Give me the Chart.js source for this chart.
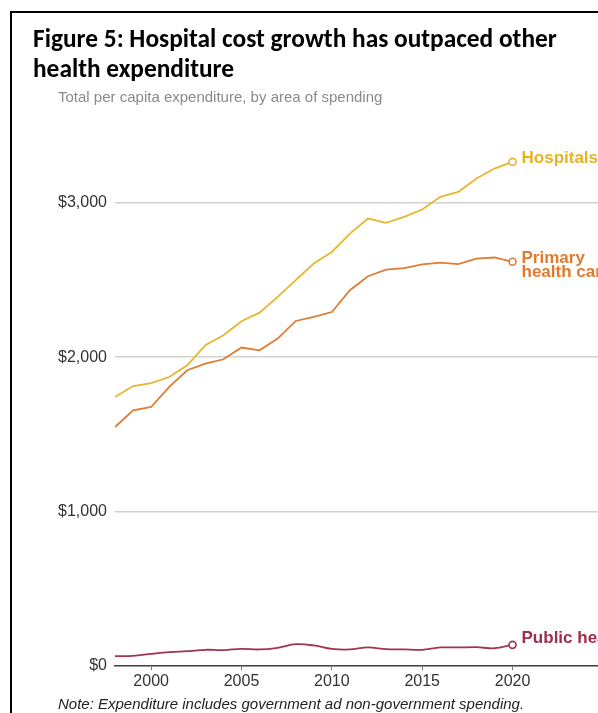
<!DOCTYPE html>
<html><head><meta charset="utf-8">
<script src="https://cdn.jsdelivr.net/npm/chart.js@4.4.1/dist/chart.umd.min.js"></script>
<style>html,body{margin:0;padding:0;background:#fff;overflow:hidden}canvas{display:block}</style>
</head><body>
<canvas id="c" width="598" height="713"></canvas>
<script>
const years = [1998,1999,2000,2001,2002,2003,2004,2005,2006,2007,2008,2009,2010,2011,2012,2013,2014,2015,2016,2017,2018,2019,2020];
const hospitals = [1742,1813,1832,1871,1947,2077,2142,2232,2288,2390,2498,2606,2681,2800,2897,2869,2908,2956,3038,3070,3157,3221,3264];
const primaryCare = [1547,1656,1677,1807,1915,1958,1986,2062,2044,2120,2234,2260,2292,2433,2524,2567,2576,2600,2612,2602,2638,2645,2617];
const publicHealth = [64,66,79,90,96,105,103,111,107,118,141,133,111,107,120,109,107,105,120,120,122,115,137];
const yTicks = [0,1000,2000,3000];
const xTicks = [2000,2005,2010,2015,2020];
const titleLines = ['Figure 5: Hospital cost growth has outpaced other','health expenditure'];
const subtitleText = 'Total per capita expenditure, by area of spending';
const noteText = 'Note: Expenditure includes government ad non-government spending.';
const seriesNames = [['Hospitals'],['Primary','health care'],['Public health']];

const SANS = '"Liberation Sans", Arial, sans-serif';
const TITLE_FONT = 'Carlito, Calibri, Lato, sans-serif';
const colors = ['#e8b62c','#e07c33','#a2344f'];

const toXY = vals => years.map((yr,i)=>({x:yr,y:vals[i]}));
const lastPoint = ctx => ctx.dataIndex === years.length-1 ? 3.5 : 0;

const textPlugin = {
  id:'texts',
  beforeDraw(chart){
    const c = chart.ctx;
    c.save();
    c.fillStyle = '#fff';
    c.fillRect(0,0,chart.width,chart.height);
    c.strokeStyle = '#000';
    c.lineWidth = 2;
    c.strokeRect(11,12,1000,1000);
    c.restore();
  },
  afterDatasetsDraw(chart){
    const c = chart.ctx;
    c.save();
    c.textAlign = 'left';
    c.textBaseline = 'alphabetic';
    chart.data.datasets.forEach((ds,di)=>{
      const meta = chart.getDatasetMeta(di);
      const p = meta.data[meta.data.length-1];
      c.fillStyle = ds.labelColor;
      c.font = 'bold 17px ' + SANS;
      seriesNames[di].forEach((ln,li)=>{
        c.fillText(ln, p.x + 9, p.y + ds.labelDy + li*14.5);
      });
    });
    c.restore();
  },
  afterDraw(chart){
    const c = chart.ctx;
    c.save();
    c.textAlign = 'left';
    c.textBaseline = 'alphabetic';
    c.font = 'bold 22px ' + TITLE_FONT;
    const w = c.measureText(titleLines[0]).width;
    const size = 22 * 524 / w;
    c.font = 'bold ' + size.toFixed(2) + 'px ' + TITLE_FONT;
    c.fillStyle = '#000';
    c.fillText(titleLines[0], 33, 47);
    c.fillText(titleLines[1], 33, 77);
    c.font = '15px ' + SANS;
    c.fillStyle = '#8a8a8a';
    c.fillText(subtitleText, 58, 102);
    c.font = 'italic 15px ' + SANS;
    c.fillStyle = '#222';
    c.fillText(noteText, 58, 709);
    c.restore();
  }
};

new Chart(document.getElementById('c'), {
  type:'line',
  data:{
    datasets:[
      {label:'Hospitals', data:toXY(hospitals), borderColor:colors[0], labelColor:'#e6b321', labelDy:1, tension:0},
      {label:'Primary health care', data:toXY(primaryCare), borderColor:colors[1], labelColor:'#e27a2c', labelDy:1, tension:0},
      {label:'Public health', data:toXY(publicHealth), borderColor:colors[2], labelColor:'#a02d4c', labelDy:-2, tension:0.35}
    ].map(d=>Object.assign({borderWidth:1.8, pointRadius:lastPoint, pointHoverRadius:0, pointBackgroundColor:'#fff', pointBorderColor:d.borderColor, pointBorderWidth:1.6, fill:false}, d))
  },
  options:{
    responsive:false,
    animation:false,
    devicePixelRatio:1,
    layout:{autoPadding:false, padding:{left:32, right:0, top:110, bottom:0}},
    plugins:{legend:{display:false}, tooltip:{enabled:false}, title:{display:false}},
    scales:{
      x:{
        type:'linear', min:1998, max:2024.73,
        afterBuildTicks:ax=>{ax.ticks = xTicks.map(v=>({value:v}));},
        afterFit:ax=>{ax.height = 47; ax.paddingLeft = 0; ax.paddingRight = 0;},
        grid:{drawOnChartArea:false, drawTicks:true, tickLength:4, color:'#777', lineWidth:1},
        border:{display:true, color:'#444', width:1.5},
        ticks:{color:'#333', font:{family:SANS, size:16}, padding:2, maxRotation:0, autoSkip:false, callback:v=>String(v)}
      },
      y:{
        min:0, max:3600,
        afterBuildTicks:ax=>{ax.ticks = yTicks.map(v=>({value:v}));},
        afterFit:ax=>{ax.width = 83; ax.paddingTop = 0; ax.paddingBottom = 0;},
        grid:{drawTicks:false, color:'#d2d2d2', lineWidth:1.5},
        border:{display:false},
        ticks:{color:'#333', font:{family:SANS, size:16}, padding:8, callback:v=>'$'+Number(v).toLocaleString('en-US')}
      }
    }
  },
  plugins:[textPlugin]
});
</script>
</body></html>
